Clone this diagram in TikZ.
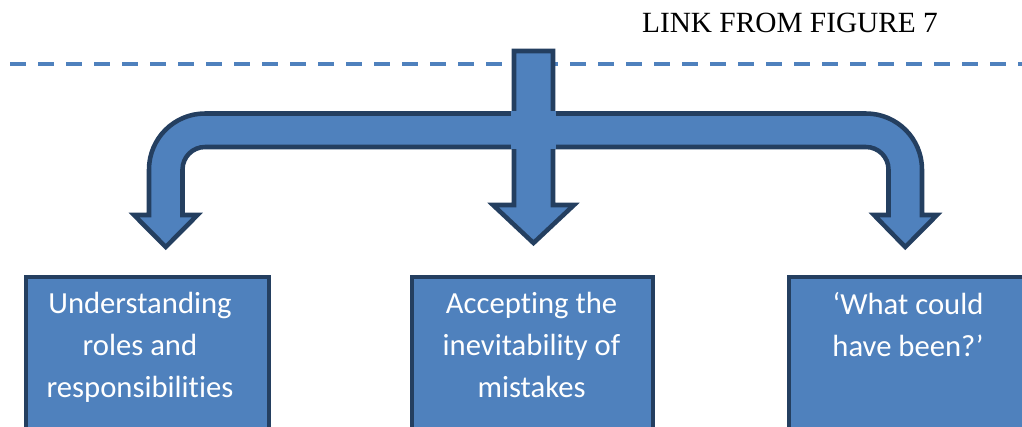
\documentclass[tikz,border=0pt]{standalone}
\usepackage{fontspec}
\setmainfont[Ligatures=NoCommon]{Carlito}
\newfontfamily\timesfont{Liberation Serif}
\definecolor{bluefill}{HTML}{4F81BD}
\definecolor{navyline}{HTML}{243F60}
\begin{document}
\begin{tikzpicture}[x=0.75pt,y=-0.75pt,
  shapestyle/.style={fill=bluefill,draw=navyline,line width=3.4pt,line join=miter},
  boxstyle/.style={fill=bluefill,draw=navyline,line width=3.6pt,anchor=north west,inner sep=0pt,minimum height=150pt},
  lbl/.style={text=white,align=center,inner sep=0pt,anchor=north,font=\fontsize{23}{31.5}\selectfont},
  linkline/.style={draw=bluefill,line width=3pt,dash pattern=on 12pt off 9pt}]
\useasboundingbox (0,0) rectangle (1022,426);
\clip (0,0) rectangle (1022,426);
% title
\node[anchor=base,inner sep=0pt,font=\timesfont\fontsize{22}{26}\selectfont] (title) at (790,32) {LINK FROM FIGURE 7};
% dashed link line
\coordinate (dl) at (10,64);
\coordinate (dr) at (1030,64);
\draw[linkline] (dl) -- (dr);
% branching bar with left and right arrows
\path[shapestyle] (182.5,215) -- (182.5,169.5) arc[start angle=180,end angle=270,radius=22.5]
  -- (866,147) arc[start angle=-90,end angle=0,radius=22.5]
  -- (888.5,215) -- (874,215) -- (905.25,247) -- (937,215) -- (922,215)
  -- (922,169.5) arc[start angle=0,end angle=-90,radius=56]
  -- (205,113.5) arc[start angle=270,end angle=180,radius=56]
  -- (149,215) -- (134,215) -- (165.75,247) -- (197.5,215) -- cycle;
% central down arrow
\path[shapestyle] (514,51) -- (553,51) -- (553,205) -- (574,205) -- (533.5,243)
  -- (493,205) -- (514,205) -- cycle;
% merge patch at the junction
\fill[bluefill] (511,111) rectangle (556,149);
% boxes
\node[boxstyle,minimum width=182.25pt] (b1) at (23.5,274.5) {};
\node[boxstyle,minimum width=180.75pt] (b2) at (409.5,274.5) {};
\node[boxstyle,minimum width=183pt] (b3) at (786.5,274.5) {};
% labels
\node[lbl] (t1) at (140,292) {Understanding\\roles and\\responsibilities};
\node[lbl] (t2) at (531.5,292) {Accepting the\\inevitability of\\mistakes};
\node[lbl] (t3) at (908,292) {‘What could\\have been?’};
\end{tikzpicture}
\end{document}
